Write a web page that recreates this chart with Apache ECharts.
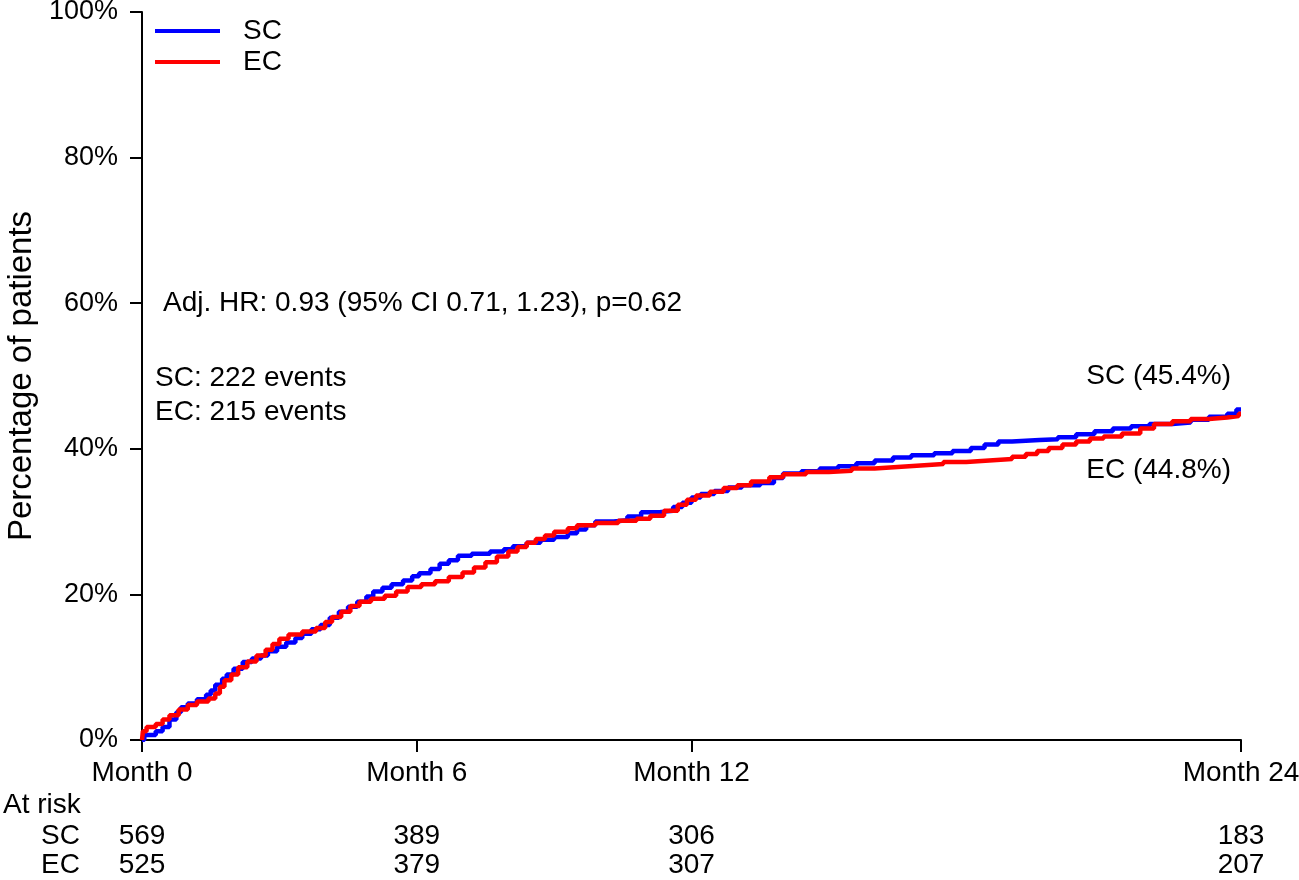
<!DOCTYPE html>
<html>
<head>
<meta charset="utf-8">
<title>Cumulative incidence SC vs EC</title>
<script src="https://cdn.jsdelivr.net/npm/echarts@6/dist/echarts.min.js"></script>
<style>
  html, body { margin: 0; padding: 0; background: #fff; }
  #chart { width: 1299px; height: 880px; }
</style>
</head>
<body>
<div id="chart"></div>
<script>
// step curves (month, % of patients)
const scMonths = [0, 0.05, 0.3, 0.45, 0.6, 0.75, 0.85, 1.0, 1.2, 1.4, 1.5, 1.6, 1.75, 1.85, 2.0, 2.2, 2.4, 2.6, 2.75, 2.95,
  3.15, 3.35, 3.5, 3.7, 3.9, 4.1, 4.3, 4.5, 4.7, 4.9, 5.05, 5.25, 5.45, 5.7, 5.9, 6.05, 6.3, 6.5, 6.7, 6.9,
  7.2, 7.6, 7.9, 8.1, 8.4, 8.7, 9.0, 9.3, 9.5, 9.7, 9.9, 10.3, 10.6, 10.9, 11.3, 11.6, 11.8, 12.0, 12.2, 12.5,
  12.8, 13.1, 13.5, 13.8, 14.0, 14.4, 14.8, 15.2, 15.6, 16.0, 16.4, 16.8, 17.3, 17.7, 18.1, 18.4, 18.7, 19.0, 19.6, 20.0,
  20.4, 20.8, 21.2, 21.6, 22.0, 22.5, 22.9, 23.3, 23.7, 23.9, 24.0];
const scValues = [0, 0.7, 1.2, 1.8, 2.8, 3.8, 4.5, 5.0, 5.6, 6.2, 6.8, 7.6, 8.4, 9.0, 9.8, 10.7, 11.2, 11.6, 12.2, 12.8,
  13.4, 14.0, 14.6, 15.2, 15.8, 16.8, 17.6, 18.3, 19.0, 19.7, 20.4, 20.9, 21.4, 21.9, 22.5, 22.9, 23.5, 24.2, 24.7, 25.3,
  25.6, 25.9, 26.2, 26.6, 27.1, 27.5, 27.9, 28.4, 28.9, 29.5, 30.0, 30.2, 30.7, 31.3, 31.5, 32.0, 32.6, 33.3, 33.8, 34.2,
  34.7, 35.0, 35.3, 36.0, 36.6, 36.9, 37.3, 37.6, 38.0, 38.4, 38.8, 39.1, 39.4, 39.7, 40.1, 40.6, 41.0, 41.2, 41.3, 41.6,
  42.0, 42.4, 42.8, 43.1, 43.4, 43.6, 44.0, 44.4, 44.8, 45.4, 45.4];

const ecMonths = [0, 0.02, 0.1, 0.3, 0.45, 0.6, 0.8, 1.0, 1.2, 1.45, 1.6, 1.7, 1.8, 1.95, 2.1, 2.3, 2.5, 2.7, 2.85, 3.0,
  3.2, 3.5, 3.8, 4.0, 4.15, 4.35, 4.55, 4.75, 5.0, 5.3, 5.55, 5.8, 6.1, 6.4, 6.7, 7.0, 7.25, 7.5, 7.75, 8.0,
  8.2, 8.4, 8.6, 8.8, 9.0, 9.3, 9.5, 9.9, 10.4, 10.8, 11.1, 11.4, 11.7, 11.9, 12.1, 12.4, 12.7, 13.0, 13.3, 13.7,
  14.0, 14.5, 15.0, 15.5, 16.0, 16.5, 17.0, 17.5, 18.0, 18.5, 19.0, 19.3, 19.55, 19.8, 20.1, 20.4, 20.7, 21.0, 21.4, 21.8,
  22.1, 22.5, 22.9, 23.3, 23.7, 23.95, 24.0];
const ecValues = [0, 1.2, 1.8, 2.2, 2.8, 3.4, 4.2, 4.8, 5.3, 5.7, 6.4, 7.3, 8.2, 9.0, 10.0, 10.8, 11.6, 12.4, 13.2, 13.9,
  14.5, 14.9, 15.4, 16.2, 16.9, 17.6, 18.4, 19.0, 19.4, 19.8, 20.4, 21.0, 21.4, 21.8, 22.4, 23.0, 23.7, 24.4, 25.2, 25.9,
  26.5, 27.1, 27.6, 28.1, 28.6, 29.1, 29.5, 29.8, 30.1, 30.4, 30.8, 31.5, 32.3, 33.0, 33.6, 34.1, 34.6, 35.0, 35.5, 36.1,
  36.5, 36.8, 37.0, 37.3, 37.5, 37.7, 37.9, 38.2, 38.4, 38.6, 38.9, 39.3, 39.7, 40.1, 40.6, 41.0, 41.4, 41.7, 42.1, 42.8,
  43.4, 43.8, 44.1, 44.3, 44.5, 44.8, 44.8];

// axis ticks and number at risk
const tickMonths = [0, 6, 12, 24];
const riskSC = [569, 389, 306, 183];
const riskEC = [525, 379, 307, 207];

const FONT = '"Liberation Sans", Arial, Helvetica, sans-serif';
const BLACK = '#000';
const FS = 28;

const zip = (xs, ys) => xs.map((x, i) => [x, ys[i]]);

const chart = echarts.init(document.getElementById('chart'));

// extra x axes used only to print the at-risk numbers under the ticks
function riskAxis(values, offset) {
  return {
    type: 'value', min: 0, max: 24, position: 'bottom', offset: offset,
    axisLine: { show: false }, axisTick: { show: false }, splitLine: { show: false },
    axisLabel: {
      customValues: tickMonths,
      margin: 0,
      fontSize: FS, fontFamily: FONT, color: BLACK,
      formatter: v => String(values[tickMonths.indexOf(v)])
    }
  };
}

function label(pos, text) {
  return Object.assign({ type: 'text', style: { text: text, font: FS + 'px ' + FONT, fill: BLACK } }, pos);
}

const option = {
  animation: false,
  backgroundColor: '#fff',
  grid: { left: 142, right: 58, top: 12, bottom: 140, containLabel: false, outerBoundsMode: 'none' },
  legend: {
    orient: 'vertical', left: 155, top: 17, itemGap: 3, padding: 0,
    itemWidth: 65, itemHeight: 4,
    textStyle: { fontSize: FS, fontFamily: FONT, color: BLACK, padding: [0, 0, 0, 18] },
    data: [{ name: 'SC', icon: 'rect' }, { name: 'EC', icon: 'rect' }]
  },
  xAxis: [
    {
      type: 'value', min: 0, max: 24, position: 'bottom',
      axisLine: { show: true, lineStyle: { color: BLACK, width: 2 } },
      axisTick: { show: true, customValues: tickMonths, length: 12, lineStyle: { color: BLACK, width: 2 } },
      axisLabel: {
        customValues: tickMonths, margin: 19,
        fontSize: FS, fontFamily: FONT, color: BLACK,
        formatter: 'Month {value}'
      },
      splitLine: { show: false }
    },
    riskAxis(riskSC, 82),
    riskAxis(riskEC, 111)
  ],
  yAxis: {
    type: 'value', min: 0, max: 100, interval: 20,
    name: 'Percentage of patients', nameLocation: 'middle', nameGap: 96,
    nameTextStyle: { fontSize: 33, fontFamily: FONT, color: BLACK },
    axisLine: { show: true, lineStyle: { color: BLACK, width: 2 } },
    axisTick: { show: true, length: 12, lineStyle: { color: BLACK, width: 2 } },
    axisLabel: { formatter: '{value}%', margin: 24, fontSize: 27, fontFamily: FONT, color: BLACK },
    splitLine: { show: false }
  },
  series: [
    {
      name: 'SC', type: 'line', step: 'end', showSymbol: false,
      lineStyle: { color: '#0000ff', width: 4.5 }, itemStyle: { color: '#0000ff' },
      data: zip(scMonths, scValues)
    },
    {
      name: 'EC', type: 'line', step: 'end', showSymbol: false,
      lineStyle: { color: '#ff0000', width: 4.5 }, itemStyle: { color: '#ff0000' },
      data: zip(ecMonths, ecValues)
    }
  ],
  graphic: [
    label({ left: 163, top: 289 }, 'Adj. HR: 0.93 (95% CI 0.71, 1.23), p=0.62'),
    label({ left: 155, top: 364 }, 'SC: 222 events'),
    label({ left: 155, top: 398 }, 'EC: 215 events'),
    label({ right: 68, top: 362 }, 'SC (45.4%)'),
    label({ right: 68, top: 456 }, 'EC (44.8%)'),
    label({ left: 3, top: 791 }, 'At risk'),
    label({ right: 1219, top: 822 }, 'SC'),
    label({ right: 1219, top: 851 }, 'EC')
  ]
};

chart.setOption(option);
</script>
</body>
</html>
